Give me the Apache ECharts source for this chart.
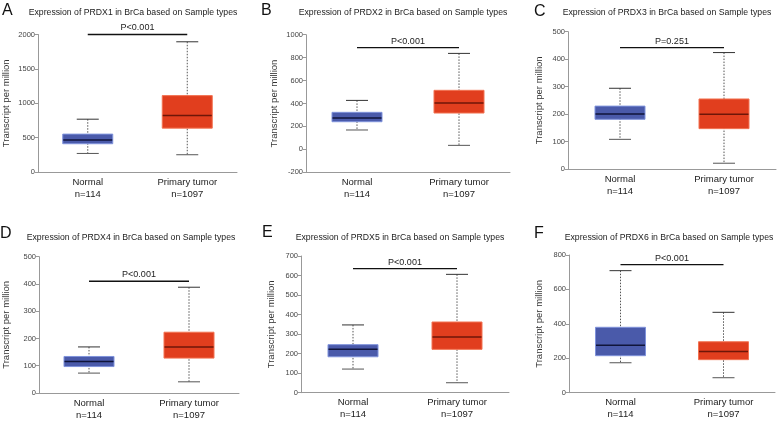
<!DOCTYPE html>
<html>
<head>
<meta charset="utf-8">
<script src="https://cdn.jsdelivr.net/npm/echarts@6/dist/echarts.min.js"></script>
<style>html,body{margin:0;padding:0;background:#fff}#c{width:778px;height:421px}</style>
</head>
<body>
<div id="c"></div>
<script>
// ---------- data ----------
const panelLetters = ['A', 'B', 'C', 'D', 'E', 'F'];
const genes = ['PRDX1', 'PRDX2', 'PRDX3', 'PRDX4', 'PRDX5', 'PRDX6'];
const categories = ['Normal\nn=114', 'Primary tumor\nn=1097'];
// [min, Q1, median, Q3, max]
const normalStats = [
  [270, 411, 464, 551, 768],
  [169, 241, 273, 323, 427],
  [108, 181, 200, 229, 294],
  [73, 97, 116, 134, 169],
  [121, 184, 222, 246, 347],
  [174, 215, 275, 380, 709]
];
const tumorStats = [
  [251, 638, 821, 1111, 1894],
  [35, 317, 404, 515, 837],
  [21, 147, 199, 255, 424],
  [41, 128, 169, 223, 388],
  [51, 222, 285, 362, 606],
  [87, 192, 240, 296, 467]
];
const sigLevels = [2000, 887, 442, 410, 635, 744];
const pLabels = ['P<0.001', 'P<0.001', 'P=0.251', 'P<0.001', 'P<0.001', 'P<0.001'];
const yMin = [0, -200, 0, 0, 0, 0];
const yMax = [2000, 1000, 500, 500, 700, 800];
const yStep = [500, 200, 100, 100, 100, 200];

// ---------- layout ----------
const layout = [
  {left: 35, top: 34.5, width: 202, bottom: 172, titleX: 133, titleY: 13, letterX: 2, letterY: 2},
  {left: 306, top: 34.7, width: 204, bottom: 172.3, titleX: 403, titleY: 13, letterX: 261, letterY: 2},
  {left: 568, top: 31.7, width: 208, bottom: 169, titleX: 667, titleY: 13, letterX: 534, letterY: 3},
  {left: 31, top: 256.7, width: 208, bottom: 393.7, titleX: 131, titleY: 238, letterX: 0, letterY: 225},
  {left: 301, top: 256, width: 208, bottom: 392.7, titleX: 400, titleY: 238, letterX: 262, letterY: 224},
  {left: 569, top: 255, width: 206, bottom: 392.7, titleX: 669, titleY: 238, letterX: 534, letterY: 225}
];
const nameGaps = [27, 27, 24, 28, 25, 25];
const FONT = 'Liberation Sans, Arial, sans-serif';
const fills = ['#4a5aaa', '#e13e1e'];
const borders = ['#7f92db', '#f27352'];
const medians = ['#10153a', '#6e1608'];

const chart = echarts.init(document.getElementById('c'), null, {renderer: 'canvas'});

const grids = [], xAxes = [], yAxes = [], series = [], titles = [];
layout.forEach((L, i) => {
  grids.push({left: L.left, top: L.top, width: L.width, height: L.bottom - L.top, containLabel: false});
  xAxes.push({
    type: 'category', gridIndex: i, data: categories, boundaryGap: true,
    axisLine: {onZero: false, lineStyle: {color: '#999', width: 1}},
    axisTick: {show: false},
    axisLabel: {color: '#222', fontSize: 9.5, fontFamily: FONT, lineHeight: 12, margin: 4}
  });
  yAxes.push({
    type: 'value', gridIndex: i, min: yMin[i], max: yMax[i], interval: yStep[i],
    name: 'Transcript per million', nameLocation: 'middle', nameGap: nameGaps[i],
    nameTextStyle: {color: '#333', fontSize: 9.5, fontFamily: FONT},
    axisLine: {show: true, onZero: false, lineStyle: {color: '#999', width: 1}},
    axisTick: {show: true, length: 3, lineStyle: {color: '#999'}},
    axisLabel: {color: '#444', fontSize: 7.5, fontFamily: FONT, margin: 3, formatter: v => String(v)},
    splitLine: {show: false}
  });
  titles.push({
    text: 'Expression of ' + genes[i] + ' in BrCa based on Sample types',
    left: L.titleX, top: L.titleY - 5, textAlign: 'center', padding: 0,
    textStyle: {fontSize: 8.7, fontWeight: 'normal', color: '#222', fontFamily: FONT}
  });
  titles.push({
    text: panelLetters[i], left: L.letterX, top: L.letterY + 1, padding: 0,
    textStyle: {fontSize: 16, fontWeight: 'normal', color: '#111', fontFamily: FONT}
  });
  const boxData = [[0].concat(normalStats[i]), [1].concat(tumorStats[i])];
  series.push({
    type: 'custom', xAxisIndex: i, yAxisIndex: i,
    data: boxData,
    encode: {x: 0, y: [1, 2, 3, 4, 5]},
    renderItem: function (params, api) {
      const c = api.value(0);
      const pMin = api.coord([c, api.value(1)]);
      const pQ1 = api.coord([c, api.value(2)]);
      const pMed = api.coord([c, api.value(3)]);
      const pQ3 = api.coord([c, api.value(4)]);
      const pMax = api.coord([c, api.value(5)]);
      const x = pMin[0], bw = 50, cw = 22;
      return {
        type: 'group',
        children: [
          {type: 'line', shape: {x1: x, y1: pMax[1], x2: x, y2: pMin[1]},
           style: {stroke: '#555', lineWidth: 1, lineDash: [1.5, 1.5]}},
          {type: 'line', shape: {x1: x - cw / 2, y1: pMax[1], x2: x + cw / 2, y2: pMax[1]},
           style: {stroke: '#333', lineWidth: 1}},
          {type: 'line', shape: {x1: x - cw / 2, y1: pMin[1], x2: x + cw / 2, y2: pMin[1]},
           style: {stroke: '#555', lineWidth: 1}},
          {type: 'rect', shape: {x: x - bw / 2, y: pQ3[1], width: bw, height: pQ1[1] - pQ3[1]},
           style: {fill: fills[c], stroke: borders[c], lineWidth: 1}},
          {type: 'line', shape: {x1: x - bw / 2 + 0.5, y1: pMed[1], x2: x + bw / 2 - 0.5, y2: pMed[1]},
           style: {stroke: medians[c], lineWidth: 1.5}}
        ]
      };
    }
  });
  series.push({
    type: 'custom', xAxisIndex: i, yAxisIndex: i,
    data: [[sigLevels[i]]],
    encode: {y: 0},
    renderItem: function (params, api) {
      const y = api.value(0);
      const p0 = api.coord([0, y]);
      const p1 = api.coord([1, y]);
      return {
        type: 'group',
        children: [
          {type: 'line', shape: {x1: p0[0], y1: p0[1], x2: p1[0], y2: p1[1]},
           style: {stroke: '#111', lineWidth: 1.3}},
          {type: 'text', x: (p0[0] + p1[0]) / 2, y: p0[1] - 2,
           style: {text: pLabels[i], fill: '#222', font: '9px ' + FONT, textAlign: 'center', textVerticalAlign: 'bottom'}}
        ]
      };
    }
  });
});

chart.setOption({
  animation: false,
  backgroundColor: '#fff',
  title: titles,
  grid: grids,
  xAxis: xAxes,
  yAxis: yAxes,
  series: series
});
</script>
</body>
</html>
